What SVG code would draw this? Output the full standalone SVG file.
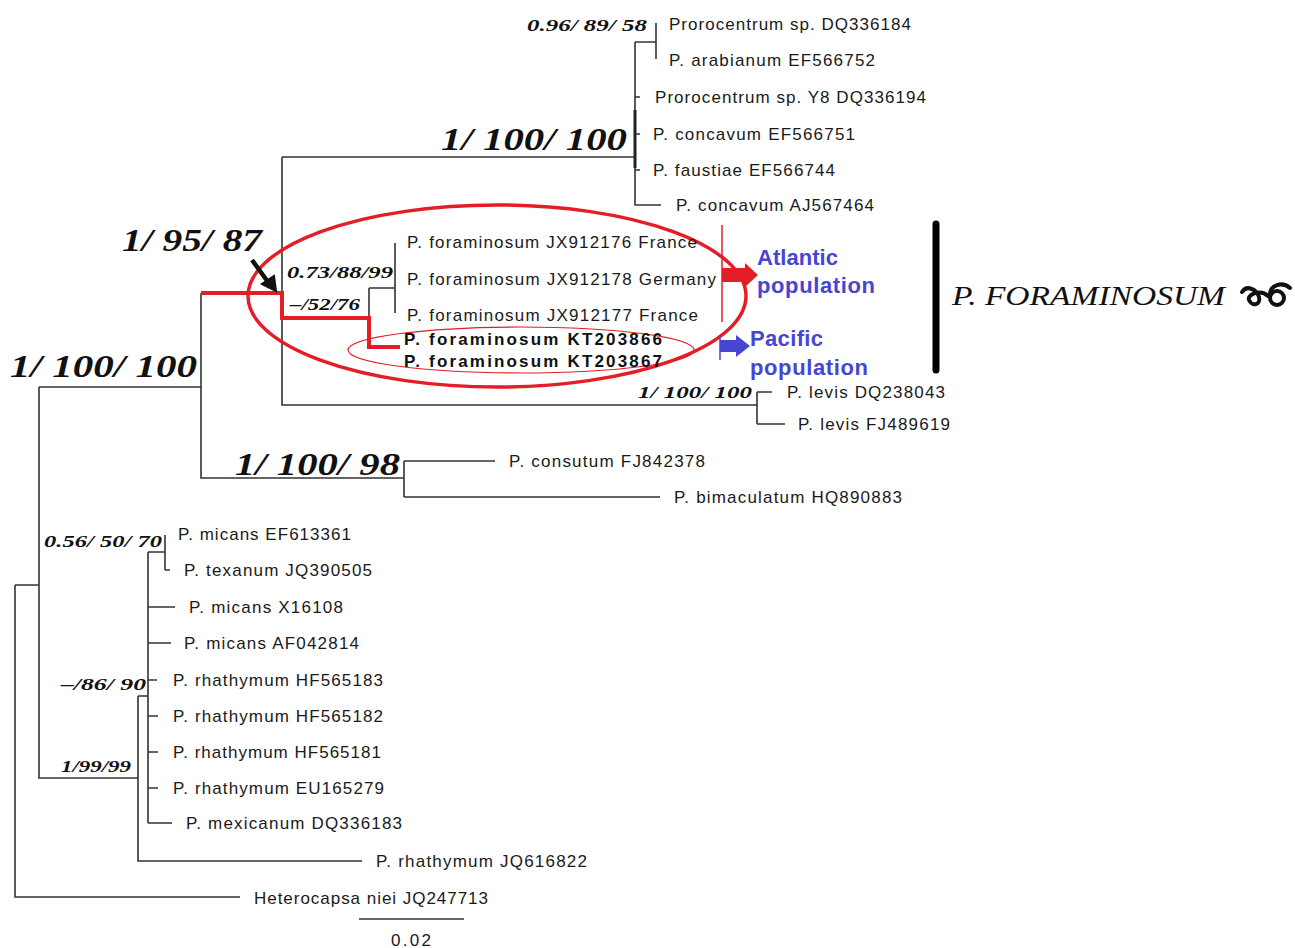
<svg xmlns="http://www.w3.org/2000/svg" width="1295" height="948" viewBox="0 0 1295 948">
<style>
.t{font-family:"Liberation Sans",Arial,sans-serif;font-size:17px;fill:#1a1a1a}
.tb{font-family:"Liberation Sans",Arial,sans-serif;font-size:17px;font-weight:bold;fill:#111}
.s{font-family:"Liberation Serif","Times New Roman",serif;font-style:italic;font-weight:bold;font-size:17px;fill:#111}
.b{font-family:"Liberation Serif","Times New Roman",serif;font-style:italic;font-weight:bold;font-size:32px;fill:#111}
.blue{font-family:"Liberation Sans",Arial,sans-serif;font-size:22px;font-weight:bold;fill:#4646d2}
.br{fill:none;stroke:#333;stroke-width:1.6}
.red{fill:none;stroke:#e41e26;stroke-width:4}
</style>
<rect width="1295" height="948" fill="#fff"/>
<g id="connectors">
<path class="br" d="M15,585V897H240M15,585H39M39,387V778H138M39,387H201V478H404M201,293V478"/>
<path class="br" d="M282,157V405H757M282,157H635M635,42V205H661M635,42H656M656,23V59M635,97H640M635,134H640M635,170H640"/>
<path fill="none" stroke="#222" stroke-width="3" d="M635,110V168"/>
<path class="br" d="M757,392V424M757,392H772M757,424H785"/>
<path class="br" d="M369,288V318M369,288H395M395,243V313"/>
<path class="br" d="M404,461V497M404,461H495M404,497H660"/>
<path class="br" d="M148,552H165M165,535V570M165,570H170M148,552V823M148,607H175M148,643H171M148,680H157M148,716H158M148,752H158M148,788H158M148,823H172M138,696H148M138,696V861H362"/>
<path class="br" d="M359,919H464"/>
<path class="red" d="M201,293H282V318H369V347H400"/>
</g>
<g id="highlight">
<ellipse cx="497" cy="296" rx="249" ry="91" fill="none" stroke="#e41e26" stroke-width="3.5"/>
<ellipse cx="521" cy="350" rx="173" ry="23" fill="none" stroke="#e41e26" stroke-width="1.2"/>
<path d="M722,225V322" stroke="#e41e26" stroke-width="1.5"/>
<path d="M722,268H745V263L758,275L745,287V282H722Z" fill="#e41e26"/>
<path d="M720,335V360" stroke="#4646d2" stroke-width="1.5"/>
<path d="M720,340H736V335L750,346L736,357V352H720Z" fill="#4646d2"/>
<path d="M252,260L268,282" stroke="#111" stroke-width="4.5"/>
<path d="M262,284L276,291L274,276Z" fill="#111" stroke="#111" stroke-width="2"/>
<path d="M936,224V370" stroke="#000" stroke-width="7" stroke-linecap="round"/>
</g>
<g id="support-labels">
<text class="s" x="527" y="31" textLength="120" lengthAdjust="spacingAndGlyphs">0.96/ 89/ 58</text>
<text class="b" x="441" y="150" textLength="186" lengthAdjust="spacingAndGlyphs">1/ 100/ 100</text>
<text class="b" x="122" y="251" textLength="140" lengthAdjust="spacingAndGlyphs">1/ 95/ 87</text>
<text class="s" x="287" y="278" textLength="106" lengthAdjust="spacingAndGlyphs">0.73/88/99</text>
<text class="s" x="290" y="310" textLength="70" lengthAdjust="spacingAndGlyphs">–/52/76</text>
<text class="b" x="10" y="377" textLength="187" lengthAdjust="spacingAndGlyphs">1/ 100/ 100</text>
<text class="s" x="638" y="398" textLength="114" lengthAdjust="spacingAndGlyphs">1/ 100/ 100</text>
<text class="b" x="235" y="475" textLength="165" lengthAdjust="spacingAndGlyphs">1/ 100/ 98</text>
<text class="s" x="44" y="547" textLength="118" lengthAdjust="spacingAndGlyphs">0.56/ 50/ 70</text>
<text class="s" x="61" y="690" textLength="85" lengthAdjust="spacingAndGlyphs">–/86/ 90</text>
<text class="s" x="61" y="772" textLength="70" lengthAdjust="spacingAndGlyphs">1/99/99</text>
</g>
<g id="leaf-DQ336184"><text class="t" x="669" y="30" textLength="242">Prorocentrum sp. DQ336184</text></g>
<g id="leaf-EF566752"><text class="t" x="669" y="66" textLength="206">P. arabianum EF566752</text></g>
<g id="leaf-DQ336194"><text class="t" x="655" y="103" textLength="271">Prorocentrum sp. Y8 DQ336194</text></g>
<g id="leaf-EF566751"><text class="t" x="653" y="140" textLength="202">P. concavum EF566751</text></g>
<g id="leaf-EF566744"><text class="t" x="653" y="176" textLength="182">P. faustiae EF566744</text></g>
<g id="leaf-AJ567464"><text class="t" x="676" y="211" textLength="198">P. concavum AJ567464</text></g>
<g id="leaf-JX912176"><text class="t" x="407" y="248" textLength="290">P. foraminosum JX912176 France</text></g>
<g id="leaf-JX912178"><text class="t" x="407" y="285" textLength="309">P. foraminosum JX912178 Germany</text></g>
<g id="leaf-JX912177"><text class="t" x="407" y="321" textLength="291">P. foraminosum JX912177 France</text></g>
<g id="leaf-KT203866"><text class="tb" x="404" y="345" textLength="258">P. foraminosum KT203866</text></g>
<g id="leaf-KT203867"><text class="tb" x="404" y="367" textLength="258">P. foraminosum KT203867</text></g>
<g id="leaf-DQ238043"><text class="t" x="787" y="398" textLength="158">P. levis DQ238043</text></g>
<g id="leaf-FJ489619"><text class="t" x="798" y="430" textLength="152">P. levis FJ489619</text></g>
<g id="leaf-FJ842378"><text class="t" x="509" y="467" textLength="196">P. consutum FJ842378</text></g>
<g id="leaf-HQ890883"><text class="t" x="674" y="503" textLength="228">P. bimaculatum HQ890883</text></g>
<g id="leaf-EF613361"><text class="t" x="178" y="540" textLength="173">P. micans EF613361</text></g>
<g id="leaf-JQ390505"><text class="t" x="184" y="576" textLength="188">P. texanum JQ390505</text></g>
<g id="leaf-X16108"><text class="t" x="189" y="613" textLength="154">P. micans X16108</text></g>
<g id="leaf-AF042814"><text class="t" x="184" y="649" textLength="175">P. micans AF042814</text></g>
<g id="leaf-HF565183"><text class="t" x="173" y="686" textLength="210">P. rhathymum HF565183</text></g>
<g id="leaf-HF565182"><text class="t" x="173" y="722" textLength="210">P. rhathymum HF565182</text></g>
<g id="leaf-HF565181"><text class="t" x="173" y="758" textLength="208">P. rhathymum HF565181</text></g>
<g id="leaf-EU165279"><text class="t" x="173" y="794" textLength="211">P. rhathymum EU165279</text></g>
<g id="leaf-DQ336183"><text class="t" x="186" y="829" textLength="216">P. mexicanum DQ336183</text></g>
<g id="leaf-JQ616822"><text class="t" x="376" y="867" textLength="211">P. rhathymum JQ616822</text></g>
<g id="leaf-JQ247713"><text class="t" x="254" y="904" textLength="234">Heterocapsa niei JQ247713</text></g>
<g id="scale"><text class="t" x="391" y="946" textLength="40">0.02</text></g>
<g id="populations">
<text class="blue" x="757" y="265" textLength="81">Atlantic</text>
<text class="blue" x="757" y="293" textLength="118">population</text>
<text class="blue" x="750" y="346" textLength="73">Pacific</text>
<text class="blue" x="750" y="375" textLength="118">population</text>
</g>
<g id="species-label">
<text x="952" y="305" textLength="273" lengthAdjust="spacingAndGlyphs" style="font-family:'Liberation Serif','Times New Roman',serif;font-style:italic;font-size:27px;fill:#111">P. FORAMINOSUM</text>
<g id="ornament" fill="none" stroke="#111" stroke-linecap="round">
<path d="M1242,292C1247,284 1257,290 1259,297C1261,305 1252,307 1249,300C1247,294 1261,289 1268,296" stroke-width="4"/>
<circle cx="1277" cy="298" r="7" stroke-width="4"/>
<path d="M1270,295C1270,285 1282,281 1290,288" stroke-width="4"/>
</g>
</g>
</svg>
